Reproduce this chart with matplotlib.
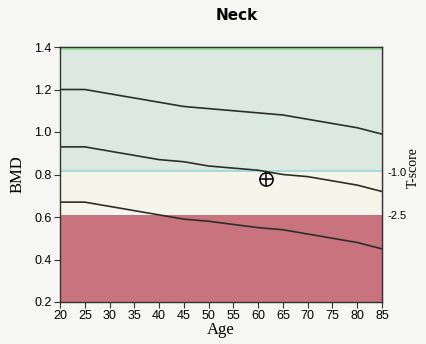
import numpy as np
import matplotlib.pyplot as plt

# reference curves
age = [20, 25, 30, 35, 40, 45, 50, 55, 60, 65, 70, 75, 80, 85]
bmd_top = [1.20, 1.20, 1.18, 1.16, 1.14, 1.12, 1.11, 1.10, 1.09, 1.08, 1.06, 1.04, 1.02, 0.99]
bmd_mid = [0.93, 0.93, 0.91, 0.89, 0.87, 0.86, 0.84, 0.83, 0.82, 0.80, 0.79, 0.77, 0.75, 0.72]
bmd_low = [0.67, 0.67, 0.65, 0.63, 0.61, 0.59, 0.58, 0.565, 0.55, 0.54, 0.52, 0.50, 0.48, 0.45]

patient_age = 61.5
patient_bmd = 0.78

tscore_bmd = [0.81, 0.61]
tscore_labels = ['-1.0', '-2.5']

fig = plt.figure(figsize=(4.26, 3.44), dpi=100)
fig.patch.set_facecolor('#f6f6f4')
ax = fig.add_axes([60/426, 1-302/344, 322/426, 255/344])

# zones
ax.axhspan(0.2, tscore_bmd[1], color='#c9737e', lw=0)
ax.axhspan(tscore_bmd[1], tscore_bmd[0], color='#f6f5ec', lw=0)
ax.axhspan(tscore_bmd[0], 1.4, color='#dce9e1', lw=0)
ax.axhspan(1.385, 1.4, color='#9edc9c', lw=0)
ax.axhspan(tscore_bmd[0], tscore_bmd[0] + 0.012, color='#a9dcd6', lw=0)

for ys in (bmd_top, bmd_mid, bmd_low):
    ax.plot(age, ys, color='#2a2f2a', lw=1.2)

ax.plot(patient_age, patient_bmd, 'o', mfc='none', mec='black', ms=9.5, mew=1.1)
ax.plot(patient_age, patient_bmd, '+', color='black', ms=9.5, mew=1.1)

ax.set_xlim(20, 85)
ax.set_ylim(0.2, 1.4)
xt = list(range(20, 86, 5))
yt = [0.2, 0.4, 0.6, 0.8, 1.0, 1.2, 1.4]
ax.set_xticks(xt)
ax.set_yticks(yt)
ax.set_yticklabels(['0.2', '0.4', '0.6', '0.8', '1.0', '1.2', '1.4'])
ax.tick_params(axis='both', labelsize=9, length=4, color='#333333', direction='out', pad=2)
for lab in ax.get_xticklabels() + ax.get_yticklabels():
    lab.set_family('Liberation Sans')
for s in ax.spines.values():
    s.set_color('#333333')
    s.set_linewidth(1.0)

# inward ticks on top and right
top = ax.secondary_xaxis('top')
top.set_xticks(xt)
top.tick_params(direction='in', length=4, color='#333333', labeltop=False)
right = ax.secondary_yaxis('right')
right.set_yticks(yt)
right.tick_params(direction='in', length=4, color='#333333', labelright=False)

ax2 = ax.twinx()
ax2.set_ylim(0.2, 1.4)
ax2.set_yticks(tscore_bmd)
ax2.set_yticklabels(tscore_labels, family='Liberation Sans', fontsize=8)
ax2.tick_params(axis='y', length=0, pad=4)
for s in ax2.spines.values():
    s.set_visible(False)

ax.set_xlabel('Age', family='Liberation Serif', fontsize=12, labelpad=0)
ax.set_ylabel('BMD', family='Liberation Serif', fontsize=12, labelpad=6)
fig.text(413/426, 1-168/344, 'T-score', rotation=90, ha='center', va='center',
         family='Liberation Serif', fontsize=10)

fig.text(237/426, 1-15/344, 'Neck', ha='center', va='center',
         fontsize=11, fontweight='bold', family='DejaVu Sans')

fig.savefig('out.png', dpi=100, facecolor=fig.get_facecolor())
